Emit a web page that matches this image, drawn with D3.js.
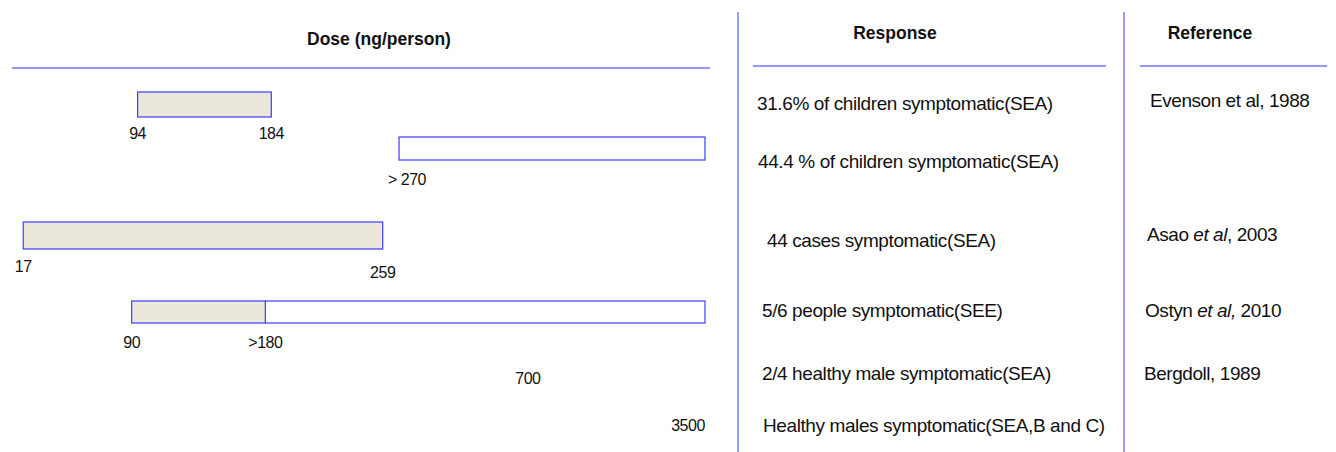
<!DOCTYPE html>
<html>
<head>
<meta charset="utf-8">
<script src="https://cdn.jsdelivr.net/npm/d3@7"></script>
<style>
  body { margin: 0; background: #fff; }
  text { font-family: "Liberation Sans", Arial, sans-serif; fill: #111; }
</style>
</head>
<body>
<script>
// one entry per row of the figure
var doseLow    = [94, 270, 17, 90, null, null];
var doseHigh   = [184, null, 259, 180, null, null];
var openEnded  = [false, true, false, true, false, false];
var lowLabels  = ["94", "> 270", "17", "90", "", ""];
var highLabels = ["184", "", "259", ">180", "", ""];
var singleDose = [null, null, null, null, 700, 3500];
var responses = [
    "31.6% of children symptomatic(SEA)",
    "44.4 % of children symptomatic(SEA)",
    "44 cases symptomatic(SEA)",
    "5/6 people symptomatic(SEE)",
    "2/4 healthy male symptomatic(SEA)",
    "Healthy males symptomatic(SEA,B and C)"
];
var refAuthors = ["Evenson et al, ", "", "Asao ", "Ostyn ", "Bergdoll, ", ""];
var refItalic  = ["", "", "et al", "et al,", "", ""];
var refYears   = ["1988", "", ", 2003", " 2010", "1989", ""];

var width = 1336;
var height = 452;

var lineColor = "#7373ff";
var barStroke = "#3b3bff";
var barFill = "#ebe7da";

var svg = d3.select("body")
    .append("svg")
    .attr("width", width)
    .attr("height", height);

// dose axis (not drawn, only used for placing the bars)
var escalaX = d3.scaleLinear()
    .domain([0, 476])
    .range([-2, 705]);

// large doses that fall beyond the bar area
var escalaGrande = d3.scaleLog()
    .domain([300, 3500])
    .range([escalaX(300), 688]);

var rowTop    = [92, 137, 222, 301, null, null];
var barH      = [25, 23, 27, 22, 0, 0];
var lowLabY   = [139, 185, 272, 348, 0, 0];
var highLabY  = [139, 0, 278, 348, 0, 0];
var singleY   = [0, 0, 0, 0, 384, 431];
var respY     = [110, 168, 247, 317, 380, 432];
var respX     = [757, 758, 767, 762, 762, 763];
var refY      = [107, 0, 241, 317, 380, 0];
var refX      = [1150, 0, 1147, 1145, 1144, 0];

var rows = d3.range(responses.length);

// headers
var headers = [
    { t: "Dose (ng/person)", x: 379, y: 45 },
    { t: "Response", x: 895, y: 39 },
    { t: "Reference", x: 1210, y: 39 }
];
svg.selectAll(".header")
    .data(headers)
    .join("text")
    .attr("class", "header")
    .attr("x", d => d.x)
    .attr("y", d => d.y)
    .attr("text-anchor", "middle")
    .style("font-size", "17.5px")
    .style("font-weight", "bold")
    .text(d => d.t);

// rule lines
var rules = [
    { x1: 12, x2: 710, y: 68 },
    { x1: 753, x2: 1106, y: 66 },
    { x1: 1140, x2: 1327, y: 66 }
];
svg.selectAll(".rule")
    .data(rules)
    .join("line")
    .attr("class", "rule")
    .attr("x1", d => d.x1)
    .attr("x2", d => d.x2)
    .attr("y1", d => d.y)
    .attr("y2", d => d.y)
    .attr("stroke", lineColor)
    .attr("stroke-width", 1.4);

svg.selectAll(".sep")
    .data([738, 1124])
    .join("line")
    .attr("class", "sep")
    .attr("x1", d => d)
    .attr("x2", d => d)
    .attr("y1", 12)
    .attr("y2", height)
    .attr("stroke", lineColor)
    .attr("stroke-width", 1.4);

var barRows = rows.filter(i => doseLow[i] !== null);

// open-ended part (white) drawn first
svg.selectAll(".abierta")
    .data(barRows.filter(i => openEnded[i]))
    .join("rect")
    .attr("class", "abierta")
    .attr("x", i => escalaX(doseHigh[i] === null ? doseLow[i] : doseHigh[i]))
    .attr("y", i => rowTop[i])
    .attr("width", i => escalaX.range()[1] - escalaX(doseHigh[i] === null ? doseLow[i] : doseHigh[i]))
    .attr("height", i => barH[i])
    .attr("fill", "#fff")
    .attr("stroke", barStroke)
    .attr("stroke-width", 1.2);

// known range (filled)
svg.selectAll(".rango")
    .data(barRows.filter(i => doseHigh[i] !== null))
    .join("rect")
    .attr("class", "rango")
    .attr("x", i => escalaX(doseLow[i]))
    .attr("y", i => rowTop[i])
    .attr("width", i => escalaX(doseHigh[i]) - escalaX(doseLow[i]))
    .attr("height", i => barH[i])
    .attr("fill", barFill)
    .attr("stroke", barStroke)
    .attr("stroke-width", 1.2);

svg.selectAll(".lowLab")
    .data(barRows)
    .join("text")
    .attr("class", "lowLab")
    .attr("x", i => escalaX(doseLow[i]) + (openEnded[i] && doseHigh[i] === null ? 8 : 0))
    .attr("y", i => lowLabY[i])
    .attr("text-anchor", "middle")
    .style("font-size", "16px")
    .style("letter-spacing", "-0.5px")
    .text(i => lowLabels[i]);

svg.selectAll(".highLab")
    .data(barRows.filter(i => doseHigh[i] !== null))
    .join("text")
    .attr("class", "highLab")
    .attr("x", i => escalaX(doseHigh[i]))
    .attr("y", i => highLabY[i])
    .attr("text-anchor", "middle")
    .style("font-size", "16px")
    .style("letter-spacing", "-0.5px")
    .text(i => highLabels[i]);

svg.selectAll(".single")
    .data(rows.filter(i => singleDose[i] !== null))
    .join("text")
    .attr("class", "single")
    .attr("x", i => escalaGrande(singleDose[i]))
    .attr("y", i => singleY[i])
    .attr("text-anchor", "middle")
    .style("font-size", "16px")
    .style("letter-spacing", "-0.5px")
    .text(i => singleDose[i]);

svg.selectAll(".resp")
    .data(rows)
    .join("text")
    .attr("class", "resp")
    .attr("x", i => respX[i])
    .attr("y", i => respY[i])
    .style("font-size", "19px")
    .style("letter-spacing", "-0.4px")
    .text(i => responses[i]);

var refText = svg.selectAll(".ref")
    .data(rows.filter(i => refAuthors[i] !== ""))
    .join("text")
    .attr("class", "ref")
    .attr("x", i => refX[i])
    .attr("y", i => refY[i])
    .style("font-size", "19px")
    .style("letter-spacing", "-0.45px");

refText.append("tspan").text(i => refAuthors[i]);
refText.append("tspan").style("font-style", "italic").text(i => refItalic[i]);
refText.append("tspan").text(i => refYears[i]);
</script>
</body>
</html>
